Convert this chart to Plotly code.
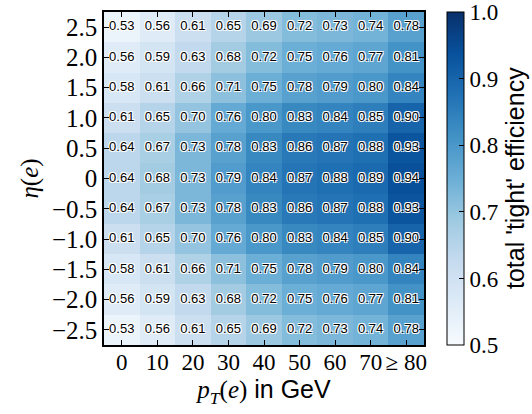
import plotly.graph_objects as go

pt_bins = [0, 10, 20, 30, 40, 50, 60, 70, 80]
pt_labels = ["0", "10", "20", "30", "40", "50", "60", "70", "≥ 80"]
eta_bins = [-2.5, -2.0, -1.5, -1.0, -0.5, 0.0, 0.5, 1.0, 1.5, 2.0, 2.5]
eta_labels = ["−2.5", "−2.0", "−1.5", "−1.0", "−0.5", "0", "0.5", "1.0", "1.5", "2.0", "2.5"]

# efficiency rows, from eta = -2.5 (bottom) to eta = 2.5 (top)
eff = [
    [0.53, 0.56, 0.61, 0.65, 0.69, 0.72, 0.73, 0.74, 0.78],
    [0.56, 0.59, 0.63, 0.68, 0.72, 0.75, 0.76, 0.77, 0.81],
    [0.58, 0.61, 0.66, 0.71, 0.75, 0.78, 0.79, 0.80, 0.84],
    [0.61, 0.65, 0.70, 0.76, 0.80, 0.83, 0.84, 0.85, 0.90],
    [0.64, 0.67, 0.73, 0.78, 0.83, 0.86, 0.87, 0.88, 0.93],
    [0.64, 0.68, 0.73, 0.79, 0.84, 0.87, 0.88, 0.89, 0.94],
    [0.64, 0.67, 0.73, 0.78, 0.83, 0.86, 0.87, 0.88, 0.93],
    [0.61, 0.65, 0.70, 0.76, 0.80, 0.83, 0.84, 0.85, 0.90],
    [0.58, 0.61, 0.66, 0.71, 0.75, 0.78, 0.79, 0.80, 0.84],
    [0.56, 0.59, 0.63, 0.68, 0.72, 0.75, 0.76, 0.77, 0.81],
    [0.53, 0.56, 0.61, 0.65, 0.69, 0.72, 0.73, 0.74, 0.78],
]
cbar_ticks = [0.5, 0.6, 0.7, 0.8, 0.9, 1.0]
cbar_title = "total 'tight' efficiency"

blues = ["#f7fbff", "#deebf7", "#c6dbef", "#9ecae1", "#6baed6",
         "#4292c6", "#2171b5", "#08519c", "#08306b"]
cscale = [[i / (len(blues) - 1), c] for i, c in enumerate(blues)]

serif = "Liberation Serif"
sans = "Liberation Sans"

fig = go.Figure()
fig.add_trace(go.Heatmap(
    x=pt_bins, y=eta_bins, z=eff,
    zmin=0.5, zmax=1.0005, colorscale=cscale,
    colorbar=dict(
        thickness=17, len=1.0, lenmode="fraction", y=0.5, yanchor="middle",
        x=1.072, xanchor="left", xpad=0, ypad=0,
        outlinewidth=1, outlinecolor="black",
        ticks="inside", ticklen=5, tickcolor="black",
        tickvals=cbar_ticks, ticktext=[f"{v:.1f}" for v in cbar_ticks],
        tickfont=dict(family=serif, size=23, color="black"),
    ),
    hoverinfo="skip",
))

xs, ys, ts = [], [], []
for j, e in enumerate(eta_bins):
    for i, p in enumerate(pt_bins):
        xs.append(p)
        ys.append(e)
        ts.append(f"{eff[j][i]:.2f}")

fig.add_trace(go.Scatter(
    x=xs, y=ys, text=ts, mode="text",
    textfont=dict(family=sans, size=13, color="black",
                  shadow="1px 1px 0 #fff, -1px -1px 0 #fff, 1px -1px 0 #fff, -1px 1px 0 #fff"),
    hoverinfo="skip", showlegend=False,
))

fig.add_annotation(
    text=cbar_title, textangle=-90, xref="paper", yref="paper",
    x=1.283, y=0.5, xanchor="center", yanchor="middle", showarrow=False,
    font=dict(family=sans, size=25, color="black"),
)

fig.update_xaxes(
    range=[-5, 85], tickvals=pt_bins, ticktext=pt_labels,
    ticks="inside", ticklen=5, tickcolor="black", mirror="ticks",
    showline=True, linecolor="black", linewidth=1.5,
    showgrid=False, zeroline=False,
    tickfont=dict(family=serif, size=23, color="black"),
    ticklabelstandoff=-4,
    title=dict(
        text=f'<span style="font-family:{serif}"><i>p</i><sub><i>T</i></sub>(<i>e</i>)</span> in GeV',
        font=dict(family=sans, size=25, color="black"), standoff=2),
)
fig.update_yaxes(
    range=[-2.75, 2.75], tickvals=eta_bins, ticktext=eta_labels,
    ticks="inside", ticklen=5, tickcolor="black", mirror="ticks",
    showline=True, linecolor="black", linewidth=1.5,
    showgrid=False, zeroline=False,
    tickfont=dict(family=serif, size=25, color="black"),
    title=dict(text="<i>η</i>(<i>e</i>)",
               font=dict(family=serif, size=25, color="black"), standoff=6),
)
fig.update_layout(
    width=532, height=414,
    margin=dict(l=104, r=108, t=10, b=69),
    paper_bgcolor="white", plot_bgcolor="white",
    showlegend=False,
)
fig.write_html("out.html")
